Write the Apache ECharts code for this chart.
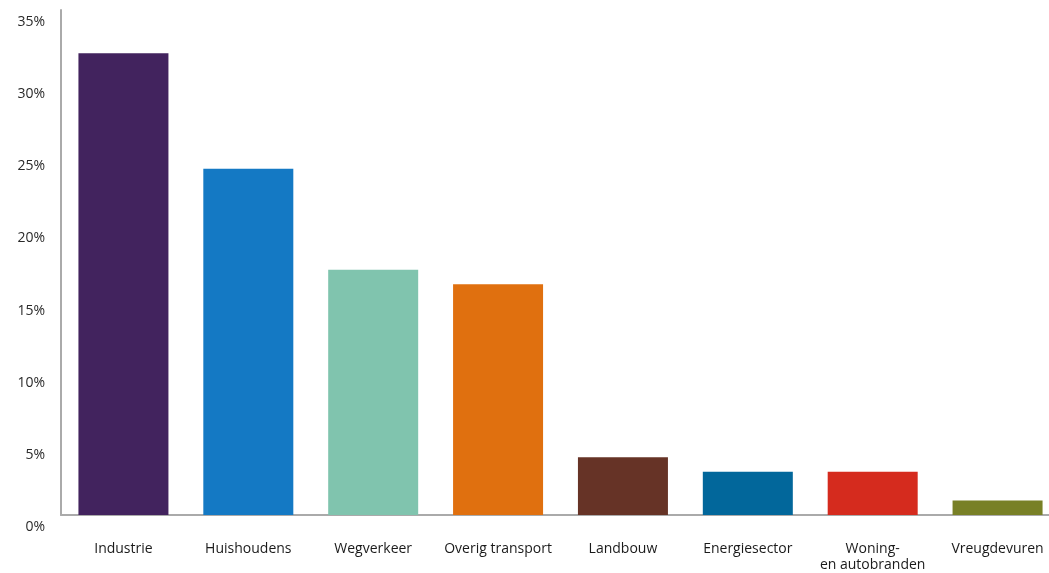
<!DOCTYPE html>
<html>
<head>
<meta charset="utf-8">
<script src="https://cdn.jsdelivr.net/npm/echarts@6/dist/echarts.min.js"></script>
<style>html,body{margin:0;padding:0;background:#fff;}#c{width:1049px;height:573px;}</style>
</head>
<body>
<div id="c"></div>
<script>
const categories = ['Industrie', 'Huishoudens', 'Wegverkeer', 'Overig transport', 'Landbouw', 'Energiesector', 'Woning-\nen autobranden', 'Vreugdevuren'];
const values = [32, 24, 17, 16, 4, 3, 3, 1];
const colors = ['#42235e', '#1479c4', '#80c4ae', '#e0700f', '#663326', '#02679b', '#d52b1e', '#788026'];

const chart = echarts.init(document.getElementById('c'));
chart.setOption({
  animation: false,
  grid: { left: 61, top: 10, width: 999, height: 505, outerBoundsMode: 'none', containLabel: false },
  xAxis: {
    type: 'category',
    data: categories,
    axisLine: { lineStyle: { color: '#aaaaaa', width: 2 } },
    axisTick: { show: false },
    axisLabel: { color: '#1a1a1a', fontFamily: 'Open Sans', fontSize: 14, margin: 26, lineHeight: 16, interval: 0 }
  },
  yAxis: {
    type: 'value',
    min: 0, max: 35, interval: 5,
    splitLine: { show: false },
    axisLine: { show: true, lineStyle: { color: '#aaaaaa', width: 2 } },
    axisTick: { show: false },
    axisLabel: { color: '#2a2a2a', fontFamily: 'Open Sans', fontSize: 14, margin: 16, verticalAlign: 'top', padding: [5, 0, 0, 0], formatter: '{value}%' }
  },
  series: [{
    type: 'bar',
    data: values.map((v, i) => ({ value: v, itemStyle: { color: colors[i] } })),
    barWidth: 90
  }]
});
</script>
</body>
</html>
